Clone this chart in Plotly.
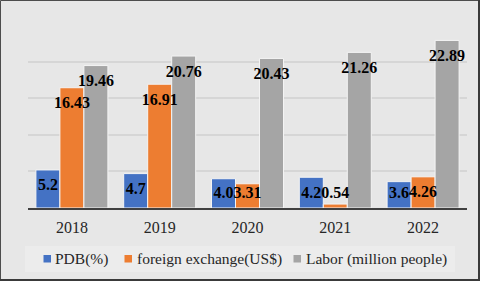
import plotly.graph_objects as go

years = ["2018", "2019", "2020", "2021", "2022"]
pdb = [5.2, 4.7, 4.0, 4.2, 3.6]
pdb_labels = ["5.2", "4.7", "4.0", "4.2", "3.6"]
fx = [16.43, 16.91, 3.31, 0.54, 4.26]
fx_labels = ["16.43", "16.91", "3.31", "0.54", "4.26"]
labor = [19.46, 20.76, 20.43, 21.26, 22.89]
labor_labels = ["19.46", "20.76", "20.43", "21.26", "22.89"]

W, H = 480, 281
ML, MR, MT, MB = 28, 13, 25, 73
pw = W - ML - MR
ph = H - MT - MB
LABEL_FLOOR = 4.1  # labels of short bars stay inside the plot, above the axis
SERIF = "Liberation Serif, Times New Roman, serif"

series = [
    ("PDB(%)", pdb, pdb_labels, "#4472C4", "a"),
    ("foreign exchange(US$)", fx, fx_labels, "#ED7D31", "b"),
    ("Labor (million people)", labor, labor_labels, "#A5A5A5", "c"),
]

fig = go.Figure()
for name, vals, labs, col, grp in series:
    fig.add_trace(go.Bar(
        x=years, y=vals, name=name, offsetgroup=grp,
        marker=dict(color=col, line=dict(color="#f4f4f4", width=1)),
        showlegend=False,
    ))
for name, vals, labs, col, grp in series:
    fig.add_trace(go.Scatter(
        x=years, y=[max(v, LABEL_FLOOR) for v in vals], text=labs,
        mode="markers+text", textposition="bottom center", offsetgroup=grp,
        marker=dict(size=12, color="rgba(0,0,0,0)"),
        textfont=dict(family=SERIF, size=16, color="#000000", weight="bold"),
        showlegend=False, hoverinfo="skip", cliponaxis=False,
    ))

def px2x(px):
    return (px - ML) / pw

def py2y(py):
    return (H - MB - py) / ph

shapes = [
    dict(type="rect", xref="paper", yref="paper",
         x0=px2x(25), x1=px2x(455), y0=py2y(272), y1=py2y(246),
         fillcolor="#ececec", line=dict(width=0), layer="below"),
    dict(type="rect", xref="paper", yref="paper",
         x0=px2x(0.5), x1=px2x(W - 1), y0=py2y(H - 1), y1=py2y(0.5),
         line=dict(color="#4d4d4d", width=1), layer="above"),
    dict(type="line", xref="paper", yref="paper",
         x0=px2x(W - 1), x1=px2x(W - 1), y0=py2y(H), y1=py2y(0),
         line=dict(color="#3a3a3a", width=2), layer="above"),
    dict(type="line", xref="paper", yref="paper",
         x0=px2x(0), x1=px2x(W), y0=py2y(H - 1), y1=py2y(H - 1),
         line=dict(color="#3a3a3a", width=2), layer="above"),
]
annotations = []
legend_items = [(43.5, 53), (124.5, 135), (293.5, 304)]
for (sq_x, tx), (name, vals, labs, col, grp) in zip(legend_items, series):
    shapes.append(dict(type="rect", xref="paper", yref="paper",
                       x0=px2x(sq_x), x1=px2x(sq_x + 7.5),
                       y0=py2y(262.5), y1=py2y(255),
                       fillcolor=col, line=dict(width=0)))
    annotations.append(dict(xref="paper", yref="paper", x=px2x(tx), y=py2y(259),
                            xanchor="left", yanchor="middle", showarrow=False,
                            text=name,
                            font=dict(family=SERIF, size=15.5, color="#262626")))

fig.update_layout(
    width=W, height=H,
    margin=dict(l=ML, r=MR, t=MT, b=MB),
    paper_bgcolor="#e7e7e7", plot_bgcolor="#e7e7e7",
    barmode="group", bargap=0.18, bargroupgap=0,
    scattermode="group",
    font=dict(family=SERIF, color="#000000"),
    xaxis=dict(showline=True, linecolor="#404040", linewidth=2,
               ticks="outside", ticklen=4, tickcolor="rgba(0,0,0,0)",
               tickfont=dict(family=SERIF, size=16, color="#262626")),
    yaxis=dict(range=[0, 25], dtick=5, showticklabels=False,
               showgrid=True, gridcolor="#d6d6d6", gridwidth=2,
               zeroline=False),
    shapes=shapes,
    annotations=annotations,
    showlegend=False,
)

fig.write_html("out.html", config={"displayModeBar": False},
               post_script="document.body.style.margin='0px';")
